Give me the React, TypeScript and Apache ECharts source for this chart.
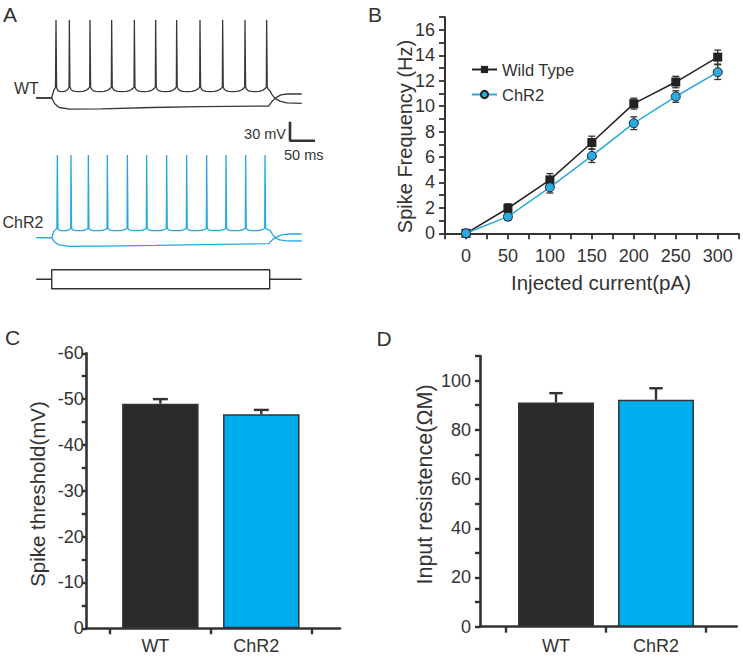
import { useEffect, useRef } from 'react';
import * as echarts from 'echarts';

const FONT = '"Liberation Sans", Arial, Helvetica, sans-serif';
const INK = '#333333';
const WT_LINE = '#383838';
const CYAN_LINE = '#29a8de';
const CYAN_BAR = '#00aeef';
const DARK_BAR = '#2a2a2a';

// ---------- Panel A: example traces (ms, mV) ----------
const TRACE_START = -31;
const TRACE_END = 500;
const STEP_ON = 0;
const STEP_OFF = 436;
const WT_SPIKE_TIMES = [8.6, 35.3, 76.6, 119.9, 165.3, 207.9, 249.9, 296.6, 341.9, 386.6, 429.9];
const CHR2_SPIKE_TIMES = [11.3, 38.6, 73.3, 111.3, 151.3, 189.9, 229.9, 269.9, 309.9, 348.6, 387.9, 426.6];
// rest, spike base, AHP trough, spike peak
const WT_LEVELS = [-70, -52.6, -60, 53];
const CHR2_LEVELS = [-70, -55.2, -59, 60.6];
// AHP profile between spikes: [fraction of interval, fraction of depth]
const AHP_SHAPE = [[0.04, 0.45], [0.12, 0.78], [0.25, 0.95], [0.45, 1], [0.65, 0.93], [0.82, 0.7], [0.94, 0.35]];
const WT_ONSET = [[4, -58], [7.6, -53]];
const CHR2_ONSET = [[4, -60], [10.3, -55.5]];
const WT_TAIL = [[433, -56], [436, -58], [441, -65], [446.6, -70.5], [456, -75], [470, -77.8], [500, -78.4]];
const CHR2_TAIL = [[431, -57], [436, -58], [441, -64], [446.6, -70], [456, -73.5], [470, -75], [500, -75.2]];
const WT_HYPER = [[-31, -70], [0, -70], [6, -79], [15, -85], [36, -87.4], [100, -87], [200, -85], [300, -83.6], [434, -82.6], [440, -76], [446.6, -70.5], [458, -65], [472, -63.7], [500, -63.7]];
const CHR2_HYPER = [[-31, -70], [0, -70], [6, -77], [15, -81.5], [35, -83.7], [100, -83.2], [209, -82.1], [300, -81], [434, -79.4], [440, -74.5], [446.6, -70], [460, -65.5], [475, -64.2], [500, -64.2]];
const STIM_LEVEL = 1;
const SCALE_BAR_ORIGIN = [476.6, -137.4];
const SCALE_BAR_MS = 50;
const SCALE_BAR_MV = 30;

// ---------- Panel B: F-I curve ----------
const CURRENTS = [0, 50, 100, 150, 200, 250, 300];
const WT_FREQ = [0, 1.97, 4.2, 7.14, 10.2, 11.9, 13.86];
const WT_FREQ_SEM = [0, 0.35, 0.5, 0.5, 0.43, 0.45, 0.55];
const CHR2_FREQ = [0, 1.31, 3.62, 6.09, 8.66, 10.76, 12.68];
const CHR2_FREQ_SEM = [0, 0.3, 0.45, 0.52, 0.5, 0.45, 0.58];

// ---------- Panels C & D: bars ----------
const GROUPS = ['WT', 'ChR2'];
const THRESHOLD = [-49.0, -46.7];
const THRESHOLD_SEM = [1.0, 0.95];
const RESISTANCE = [91.1, 92.2];
const RESISTANCE_SEM = [3.8, 4.7];

function spikingTrace(spikes: number[], levels: number[], onset: number[][], tail: number[][]) {
  const [rest, base, trough, peak] = levels;
  const pts: number[][] = [[TRACE_START, rest], [STEP_ON, rest], ...onset];
  spikes.forEach((t, i) => {
    pts.push([t - 0.6, base], [t, peak], [t + 1.2, base]);
    const next = spikes[i + 1];
    if (next !== undefined) {
      const span = next - t - 1.8;
      AHP_SHAPE.forEach(([f, d]) => pts.push([t + 1.2 + f * span, base + (trough - base) * d]));
    }
  });
  tail.forEach((p) => pts.push(p));
  return pts;
}

function errorBars(capW: number, lw: number, bothCaps: boolean) {
  return (_params: any, api: any) => {
    const x = api.value(0);
    const lo = api.coord([x, api.value(1)]);
    const hi = api.coord([x, api.value(2)]);
    const style = { stroke: INK, lineWidth: lw };
    const children: any[] = [
      { type: 'line', shape: { x1: lo[0], y1: lo[1], x2: hi[0], y2: hi[1] }, style },
      { type: 'line', shape: { x1: hi[0] - capW / 2, y1: hi[1], x2: hi[0] + capW / 2, y2: hi[1] }, style },
    ];
    if (bothCaps) {
      children.push({ type: 'line', shape: { x1: lo[0] - capW / 2, y1: lo[1], x2: lo[0] + capW / 2, y2: lo[1] }, style });
    }
    return { type: 'group', children };
  };
}

const hiddenAxis = (gridIndex: number, min: number, max: number) => ({
  type: 'value', gridIndex, min, max, show: false, splitLine: { show: false },
});

function buildOption(): any {
  const axisLine = (w: number) => ({ show: true, onZero: false, lineStyle: { color: INK, width: w } });
  const label = (size: number, margin: number) => ({ color: INK, fontSize: size, fontFamily: FONT, margin });
  const text = (t: string, x: number, y: number, size: number, extra: any = {}) => ({
    type: 'text', x, y, ...extra,
    style: { text: t, fontSize: size, fontFamily: FONT, fill: INK, align: 'left', verticalAlign: 'middle', ...(extra.style || {}) },
  });
  const rotText = (t: string, x: number, y: number, size: number) => ({
    type: 'text', x, y, rotation: Math.PI / 2,
    style: { text: t, fontSize: size, fontFamily: FONT, fill: INK, align: 'center', verticalAlign: 'middle' },
  });

  const grids = [
    { left: 34.2, width: 285, top: 9.3, height: 139.4 },   // A WT
    { left: 34.2, width: 285, top: 149.0, height: 107.7 }, // A ChR2
    { left: 34.2, width: 285, top: 260.2, height: 38 },    // A stim
    { left: 445, width: 293.7, top: 17.2, height: 216.1 }, // B
    { left: 86.7, width: 253.3, top: 353.3, height: 275 }, // C
    { left: 480, width: 256.7, top: 356, height: 270.7 },  // D
  ].map((g) => ({ ...g, outerBoundsMode: 'none', containLabel: false }));

  const xAxes = [
    hiddenAxis(0, -35, 535),
    hiddenAxis(1, -35, 535),
    hiddenAxis(2, -35, 535),
    {
      type: 'value', gridIndex: 3, min: -25, max: 325, interval: 25,
      axisLine: axisLine(2), splitLine: { show: false },
      axisTick: { show: true, inside: false, length: 6, lineStyle: { color: INK, width: 1.8 } },
      axisLabel: { ...label(18, 14), showMinLabel: true, showMaxLabel: true,
        formatter: (v: number) => (v >= 0 && v <= 300 && v % 50 === 0 ? String(v) : '') },
    },
    {
      type: 'value', gridIndex: 4, min: 0.27, max: 2.78,
      axisLine: axisLine(2.6), splitLine: { show: false },
      axisTick: { show: true, length: 6, customValues: [0.5, 1.5, 2.5], lineStyle: { color: INK, width: 2.4 } },
      axisLabel: { ...label(18, 9), padding: [0, 10, 0, 0], customValues: [1, 2], formatter: (v: number) => GROUPS[Math.round(v) - 1] || '' },
    },
    {
      type: 'value', gridIndex: 5, min: 0.24, max: 2.807,
      axisLine: axisLine(2.6), splitLine: { show: false },
      axisTick: { show: true, length: 6, customValues: [0.5, 1.5, 2.5], lineStyle: { color: INK, width: 2.4 } },
      axisLabel: { ...label(18, 10), customValues: [1, 2], formatter: (v: number) => GROUPS[Math.round(v) - 1] || '' },
    },
  ];

  const yAxes = [
    hiddenAxis(0, -150, 70),
    hiddenAxis(1, -100, 70),
    hiddenAxis(2, -2, 2),
    {
      type: 'value', gridIndex: 3, min: 0, max: 17, interval: 1,
      axisLine: axisLine(2), splitLine: { show: false },
      axisTick: { show: true, length: 6, lineStyle: { color: INK, width: 1.8 } },
      axisLabel: { ...label(18, 10), showMaxLabel: true, formatter: (v: number) => (v % 2 === 0 ? String(v) : '') },
    },
    {
      type: 'value', gridIndex: 4, min: -60, max: 0, interval: 5, inverse: true,
      axisLine: axisLine(2.6), splitLine: { show: false },
      axisTick: { show: true, length: 5, lineStyle: { color: INK, width: 2.4 } },
      axisLabel: { ...label(18, 3), formatter: (v: number) => (v % 10 === 0 ? String(v) : '') },
    },
    {
      type: 'value', gridIndex: 5, min: 0, max: 110, interval: 10,
      axisLine: axisLine(2.6), splitLine: { show: false },
      axisTick: { show: true, length: 5, lineStyle: { color: INK, width: 2.4 } },
      axisLabel: { ...label(18, 9), formatter: (v: number) => (v % 20 === 0 ? String(v) : '') },
    },
  ];

  const traceLine = (data: number[][], idx: number, color: string, width = 1.3) => ({
    type: 'line', xAxisIndex: idx, yAxisIndex: idx, data, showSymbol: false, symbol: 'none',
    clip: false, silent: true, lineStyle: { color, width }, z: 3,
  });

  const stimBox = [[TRACE_START, 0], [STEP_ON, 0], [STEP_ON, STIM_LEVEL], [STEP_OFF, STIM_LEVEL], [STEP_OFF, -STIM_LEVEL], [STEP_ON, -STIM_LEVEL], [STEP_ON, 0]];
  const stimAfter = [[STEP_OFF, 0], [TRACE_END, 0]];
  const [sbT, sbV] = SCALE_BAR_ORIGIN;
  const scaleBar = [[sbT, sbV + SCALE_BAR_MV], [sbT, sbV], [sbT + SCALE_BAR_MS, sbV]];

  const series: any[] = [
    traceLine(spikingTrace(WT_SPIKE_TIMES, WT_LEVELS, WT_ONSET, WT_TAIL), 0, WT_LINE),
    traceLine(WT_HYPER, 0, WT_LINE),
    traceLine(scaleBar, 0, INK, 2.6),
    traceLine(spikingTrace(CHR2_SPIKE_TIMES, CHR2_LEVELS, CHR2_ONSET, CHR2_TAIL), 1, CYAN_LINE, 1.3),
    traceLine(CHR2_HYPER, 1, CYAN_LINE, 1.3),
    traceLine(stimBox, 2, INK, 1.4),
    traceLine(stimAfter, 2, INK, 1.4),
    // Panel B
    {
      type: 'custom', xAxisIndex: 3, yAxisIndex: 3, z: 1, silent: true,
      renderItem: errorBars(7, 1.3, true),
      encode: { x: 0, y: [1, 2] },
      data: CURRENTS.map((c, i) => [c, WT_FREQ[i] - WT_FREQ_SEM[i], WT_FREQ[i] + WT_FREQ_SEM[i]]),
    },
    {
      type: 'custom', xAxisIndex: 3, yAxisIndex: 3, z: 1, silent: true,
      renderItem: errorBars(7, 1.3, true),
      encode: { x: 0, y: [1, 2] },
      data: CURRENTS.map((c, i) => [c, CHR2_FREQ[i] - CHR2_FREQ_SEM[i], CHR2_FREQ[i] + CHR2_FREQ_SEM[i]]),
    },
    {
      name: 'Wild Type', type: 'line', xAxisIndex: 3, yAxisIndex: 3, z: 4,
      data: CURRENTS.map((c, i) => [c, WT_FREQ[i]]),
      symbol: 'rect', symbolSize: 9, showSymbol: true,
      lineStyle: { color: '#222', width: 1.5 }, itemStyle: { color: '#222' },
    },
    {
      name: 'ChR2', type: 'line', xAxisIndex: 3, yAxisIndex: 3, z: 5,
      data: CURRENTS.map((c, i) => [c, CHR2_FREQ[i]]),
      symbol: 'circle', symbolSize: 9, showSymbol: true,
      lineStyle: { color: CYAN_LINE, width: 1.5 },
      itemStyle: { color: '#2aabe2', borderColor: '#222', borderWidth: 1 },
    },
    // Panel C
    {
      type: 'bar', xAxisIndex: 4, yAxisIndex: 4, barWidth: 76.5, z: 2,
      data: THRESHOLD.map((v, i) => ({
        value: [i + 1, v],
        itemStyle: { color: i === 0 ? DARK_BAR : CYAN_BAR, borderColor: INK, borderWidth: 1.5 },
      })),
    },
    {
      type: 'custom', xAxisIndex: 4, yAxisIndex: 4, z: 1, silent: true,
      renderItem: errorBars(15, 2.4, false),
      encode: { x: 0, y: [1, 2] },
      data: THRESHOLD.map((v, i) => [i + 1, v, v - THRESHOLD_SEM[i]]),
    },
    // Panel D
    {
      type: 'bar', xAxisIndex: 5, yAxisIndex: 5, barWidth: 76, z: 2,
      data: RESISTANCE.map((v, i) => ({
        value: [i + 1, v],
        itemStyle: { color: i === 0 ? DARK_BAR : CYAN_BAR, borderColor: INK, borderWidth: 1.5 },
      })),
    },
    {
      type: 'custom', xAxisIndex: 5, yAxisIndex: 5, z: 1, silent: true,
      renderItem: errorBars(13.5, 2.4, false),
      encode: { x: 0, y: [1, 2] },
      data: RESISTANCE.map((v, i) => [i + 1, v, v + RESISTANCE_SEM[i]]),
    },
  ];

  return {
    animation: false,
    backgroundColor: '#ffffff',
    textStyle: { fontFamily: FONT, color: INK },
    grid: grids,
    xAxis: xAxes,
    yAxis: yAxes,
    legend: {
      data: ['Wild Type', 'ChR2'], orient: 'vertical', left: 471, top: 61, padding: 0,
      itemGap: 8, itemWidth: 25, itemHeight: 9, selectedMode: false,
      textStyle: { fontSize: 16.5, fontFamily: FONT, color: INK },
    },
    graphic: [
      text('A', 3, 14, 21),
      text('B', 368, 14, 21),
      text('C', 5, 337, 21),
      text('D', 376.5, 338, 21),
      text('WT', 14, 88, 16),
      text('ChR2', 2.5, 222, 16),
      text('30 mV', 286, 134, 14.5, { style: { align: 'right' } }),
      text('50 ms', 284, 155, 14.5),
      rotText('Spike Frequency (Hz)', 405, 136.5, 20),
      text('Injected current(pA)', 601, 282, 20.5, { style: { align: 'center' } }),
      rotText('Spike threshold(mV)', 37.5, 494, 20.5),
      rotText('Input resistence(\u03A9M)', 425, 484.5, 21.5),
    ],
    series,
  };
}

export default function App() {
  const ref = useRef<HTMLDivElement>(null);
  useEffect(() => {
    if (!ref.current) return;
    const chart = echarts.init(ref.current, undefined, { renderer: 'svg' });
    chart.setOption(buildOption());
    return () => chart.dispose();
  }, []);
  return <div ref={ref} style={{ position: 'fixed', left: 0, top: 0, width: 743, height: 657, background: '#fff' }} />;
}
